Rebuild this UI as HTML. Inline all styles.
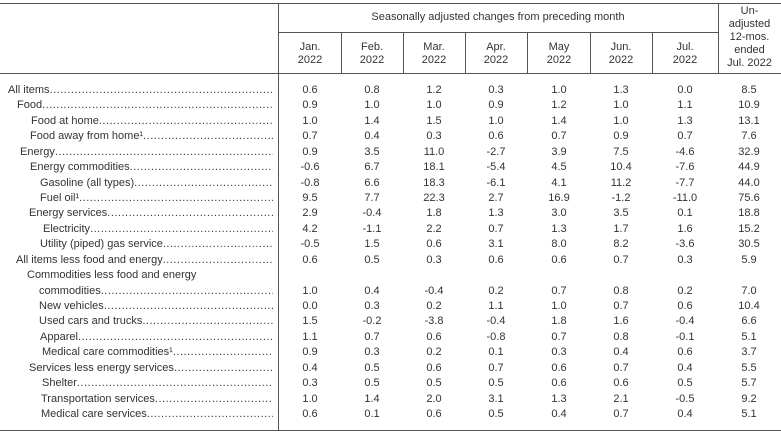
<!DOCTYPE html><html><head><style>
body{margin:0;width:781px;height:435px;background:#fff;position:relative;overflow:hidden;font-family:"Liberation Sans",sans-serif;font-size:11px;color:#333}
.h{position:absolute;background:#555;height:1px}
.v{position:absolute;background:#555;width:1px}
.t{position:absolute;text-align:center;line-height:13px}
.l{position:absolute;white-space:nowrap;overflow:hidden;width:0;line-height:13px}
.n{position:absolute;width:60px;text-align:center;line-height:13px}
</style></head><body>
<div class="h" style="left:0;top:3px;width:781px"></div>
<div class="h" style="left:278px;top:32px;width:440px"></div>
<div class="h" style="left:0;top:73px;width:781px"></div>
<div class="h" style="left:0;top:430px;width:781px"></div>
<div class="v" style="left:278px;top:3px;height:428px"></div>
<div class="v" style="left:341px;top:32px;height:41px"></div>
<div class="v" style="left:403px;top:32px;height:41px"></div>
<div class="v" style="left:465px;top:32px;height:41px"></div>
<div class="v" style="left:527px;top:32px;height:41px"></div>
<div class="v" style="left:590px;top:32px;height:41px"></div>
<div class="v" style="left:652px;top:32px;height:41px"></div>
<div class="v" style="left:718px;top:3px;height:70px"></div>
<div class="t" style="left:278px;width:440px;top:11px">Seasonally adjusted changes from preceding month</div>
<div class="t" style="left:718px;width:63px;top:5px">Un-<br>adjusted<br>12-mos.<br>ended<br>Jul. 2022</div>
<div id="c"></div>
<script>
var hdr=["Jan.","Feb.","Mar.","Apr.","May","Jun.","Jul."],cx=[310,372,434,496,559,621,685,749];
var s="";
hdr.forEach(function(m,i){s+='<div class="t" style="left:'+(cx[i]-30)+'px;width:60px;top:41px">'+m+'<br>2022</div>';});
var rows=[
["All items",8,"0.6 0.8 1.2 0.3 1.0 1.3 0.0 8.5"],
["Food",17,"0.9 1.0 1.0 0.9 1.2 1.0 1.1 10.9"],
["Food at home",31,"1.0 1.4 1.5 1.0 1.4 1.0 1.3 13.1"],
["Food away from home¹",30,"0.7 0.4 0.3 0.6 0.7 0.9 0.7 7.6"],
["Energy",20,"0.9 3.5 11.0 -2.7 3.9 7.5 -4.6 32.9"],
["Energy commodities",30,"-0.6 6.7 18.1 -5.4 4.5 10.4 -7.6 44.9"],
["Gasoline (all types)",40,"-0.8 6.6 18.3 -6.1 4.1 11.2 -7.7 44.0"],
["Fuel oil¹",40,"9.5 7.7 22.3 2.7 16.9 -1.2 -11.0 75.6"],
["Energy services",29,"2.9 -0.4 1.8 1.3 3.0 3.5 0.1 18.8"],
["Electricity",43,"4.2 -1.1 2.2 0.7 1.3 1.7 1.6 15.2"],
["Utility (piped) gas service",40,"-0.5 1.5 0.6 3.1 8.0 8.2 -3.6 30.5"],
["All items less food and energy",16,"0.6 0.5 0.3 0.6 0.6 0.7 0.3 5.9"],
["Commodities less food and energy",27,null],
["commodities",39,"1.0 0.4 -0.4 0.2 0.7 0.8 0.2 7.0"],
["New vehicles",39,"0.0 0.3 0.2 1.1 1.0 0.7 0.6 10.4"],
["Used cars and trucks",39,"1.5 -0.2 -3.8 -0.4 1.8 1.6 -0.4 6.6"],
["Apparel",40,"1.1 0.7 0.6 -0.8 0.7 0.8 -0.1 5.1"],
["Medical care commodities¹",42,"0.9 0.3 0.2 0.1 0.3 0.4 0.6 3.7"],
["Services less energy services",29,"0.4 0.5 0.6 0.7 0.6 0.7 0.4 5.5"],
["Shelter",42,"0.3 0.5 0.5 0.5 0.6 0.6 0.5 5.7"],
["Transportation services",41,"1.0 1.4 2.0 3.1 1.3 2.1 -0.5 9.2"],
["Medical care services",41,"0.6 0.1 0.6 0.5 0.4 0.7 0.4 5.1"]];
rows.forEach(function(r,i){var y=Math.round(90+15.43*i-6);
var lab=r[2]?r[0]+"<span style='letter-spacing:0.5px'>"+".".repeat(120)+"</span>":r[0];
s+='<div class="l" style="left:'+r[1]+'px;top:'+y+'px;width:'+(273-r[1])+'px">'+lab+'</div>';
if(r[2])r[2].split(" ").forEach(function(v,j){s+='<div class="n" style="left:'+(cx[j]-30)+'px;top:'+y+'px">'+v+'</div>';});});
document.getElementById("c").innerHTML=s;
</script>
</body></html>
